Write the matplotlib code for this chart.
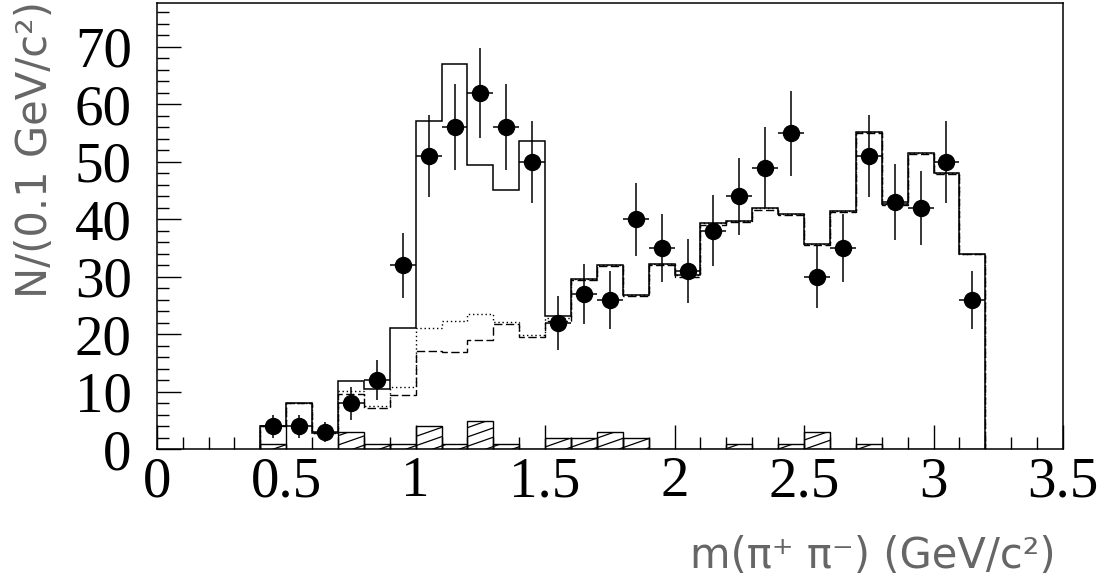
import numpy as np
import matplotlib.pyplot as plt
from matplotlib.collections import LineCollection
from matplotlib.ticker import MultipleLocator

# bins of 0.1 GeV/c^2 from 0.4 to 3.2
edges = np.linspace(0.4, 3.2, 29)
centers = edges[:-1] + 0.05

# data points
counts = [4, 4, 3, 8, 12, 32, 51, 56, 62, 56, 50, 22, 27, 26, 40, 35,
          31, 38, 44, 49, 55, 30, 35, 51, 43, 42, 50, 26]

# total fit (solid)
total = [4, 8, 2.8, 11.8, 10.5, 21.1, 57.2, 67.1, 49.4, 45.2, 53.6, 23.2,
         29.6, 32.1, 26.9, 32.3, 30.4, 39.4, 39.7, 41.9, 40.9, 35.7, 41.4,
         55.2, 42.7, 51.6, 48.1, 34.0]
# dashed component
comp_dash = [4, 8, 2.8, 9.7, 7.2, 9.5, 17.1, 16.9, 19.0, 21.8, 19.6, 22.3,
             29.4, 31.9, 26.7, 32.1, 29.9, 39.1, 39.5, 41.7, 40.7, 35.5, 41.2,
             55.0, 42.5, 51.4, 47.9, 33.9]
# dotted component
comp_dot = [4, 8, 2.8, 10.2, 7.5, 10.8, 21.1, 22.4, 23.5, 22.2, 19.8, 22.8,
            29.6, 32.1, 26.9, 32.3, 30.4, 39.4, 39.7, 41.9, 40.9, 35.7, 41.4,
            55.2, 42.7, 51.6, 48.1, 34.0]
# background (hatched)
bkg = [1, 0, 0, 3, 1, 1, 4, 1, 5, 1, 0, 2, 2, 3, 2, 0, 0, 0, 1, 0, 1, 3,
       0, 1, 0, 0, 0, 0]

xticks = [0, 0.5, 1, 1.5, 2, 2.5, 3, 3.5]
xticklabels = ['0', '0.5', '1', '1.5', '2', '2.5', '3', '3.5']

fig = plt.figure(figsize=(11.14, 5.78), dpi=100)
ax = fig.add_axes([0.1407, 0.2227, 0.8135, 0.7716])

ax.stairs(comp_dot, edges, baseline=0, color='k', lw=1.0, linestyle=(0, (1, 2)))
ax.stairs(comp_dash, edges, baseline=0, color='k', lw=1.0, linestyle=(0, (6, 2.5)))
ax.stairs(total, edges, baseline=0, color='k', lw=1.1)

bars = ax.bar(centers, bkg, width=0.1, fill=False, edgecolor='k', lw=1.0)
# low-angle hatch lines, clipped to each bar
slope = 0.35 * 906 / 446
step = 9.3 / 446
offs = np.arange(-0.8, 0.1, step)
for b in bars:
    if b.get_height() == 0:
        continue
    segs = [[(0, c), (1, c + slope)] for c in offs]
    lc = LineCollection(segs, colors='k', linewidths=0.9, transform=ax.transAxes)
    ax.add_collection(lc)
    lc.set_clip_path(b)

ax.errorbar(centers, counts, yerr=np.sqrt(counts), xerr=0.05, fmt='o',
            ms=11.5, color='k', ecolor='k', elinewidth=1.1, capsize=0, zorder=5)

ax.set_xlim(0, 3.5)
ax.set_ylim(0, 77.6)
ax.xaxis.set_major_locator(MultipleLocator(0.5))
ax.xaxis.set_minor_locator(MultipleLocator(0.1))
ax.yaxis.set_major_locator(MultipleLocator(10))
ax.yaxis.set_minor_locator(MultipleLocator(2))
ax.tick_params(which='both', direction='in', top=False, right=False, width=1)
ax.tick_params(which='major', length=17)
ax.tick_params(which='minor', length=8.5)
ax.tick_params(axis='x', which='major', pad=5)
ax.tick_params(axis='y', which='major', pad=18)
for s in ax.spines.values():
    s.set_linewidth(1.1)
ax.set_xticks(xticks)
ax.set_xticklabels(xticklabels)
for lab in ax.get_xticklabels() + ax.get_yticklabels():
    lab.set_fontfamily('Liberation Serif')
    lab.set_fontsize(41)

fig.text(0.031, 0.999, 'N/(0.1 GeV/c²)', rotation=90, ha='center', va='top',
         fontsize=30, family='DejaVu Sans', color='#666666')
fig.text(0.948, 0.002, 'm(π⁺ π⁻) (GeV/c²)', ha='right', va='bottom',
         fontsize=30, family='DejaVu Sans', color='#666666')

fig.savefig('out.png', dpi=100)
